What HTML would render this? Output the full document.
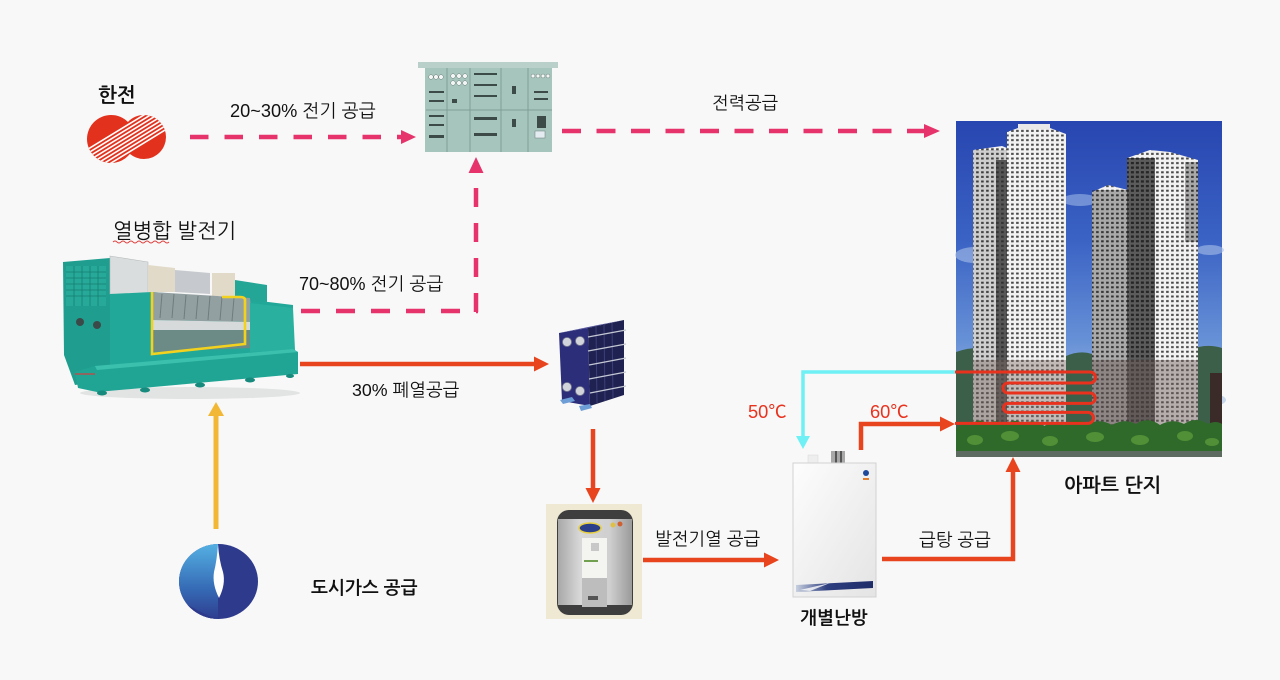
<!DOCTYPE html>
<html><head><meta charset="utf-8">
<style>
html,body{margin:0;padding:0;background:#f8f8f8;}
svg{display:block;}
text{font-family:"Liberation Sans","NanumGothic","Noto Sans CJK KR",sans-serif;fill:#111;}
.b{font-weight:bold;}
</style></head>
<body>
<svg width="1280" height="680" viewBox="0 0 1280 680" xmlns="http://www.w3.org/2000/svg">
<defs>
  <clipPath id="kc"><circle cx="111" cy="139" r="24"/><circle cx="144" cy="137" r="22"/></clipPath>
  <linearGradient id="gasL" x1="0" y1="0" x2="0" y2="1"><stop offset="0" stop-color="#55b2e4"/><stop offset="0.6" stop-color="#3569b4"/><stop offset="1" stop-color="#2e3a8c"/></linearGradient>
  <clipPath id="gc"><ellipse cx="218.5" cy="581.5" rx="39.5" ry="37.5"/></clipPath>
  <linearGradient id="sky" x1="0" y1="0" x2="0" y2="1"><stop offset="0" stop-color="#2846b0"/><stop offset="0.35" stop-color="#3a62c4"/><stop offset="0.65" stop-color="#6690d6"/><stop offset="0.8" stop-color="#8eb0de"/></linearGradient>
  <pattern id="winL" width="5" height="4.6" patternUnits="userSpaceOnUse"><rect width="5" height="4.6" fill="#f2f2f2"/><rect x="1.1" y="1.1" width="2.6" height="2" fill="#474747"/></pattern>
  <pattern id="winD" width="5" height="4.6" patternUnits="userSpaceOnUse"><rect width="5" height="4.6" fill="#5c5c5c"/><rect x="0.9" y="0.9" width="3" height="2.3" fill="#262626"/></pattern>
  <linearGradient id="boil" x1="0" y1="0" x2="1" y2="1"><stop offset="0" stop-color="#fdfdfd"/><stop offset="1" stop-color="#e4e4e4"/></linearGradient>
  <linearGradient id="tank" x1="0" y1="0" x2="1" y2="0"><stop offset="0" stop-color="#a8a8a8"/><stop offset="0.3" stop-color="#d8d8d8"/><stop offset="0.7" stop-color="#cfcfcf"/><stop offset="1" stop-color="#9a9a9a"/></linearGradient>
  <linearGradient id="bstripe" x1="0" y1="0" x2="1" y2="0"><stop offset="0" stop-color="#c8d0e0"/><stop offset="0.4" stop-color="#2e3f80"/><stop offset="1" stop-color="#1e2c68"/></linearGradient>
</defs>

<!-- KEPCO -->
<text x="98" y="102" class="b" font-size="20">한전</text>
<g clip-path="url(#kc)">
  <rect x="80" y="105" width="95" height="65" fill="#e2321e"/>
  <g stroke="#ffffff" stroke-width="1.6">
    <line x1="80" y1="168" x2="175" y2="110" transform="translate(0,-14)"/>
    <line x1="80" y1="168" x2="175" y2="110" transform="translate(0,-10)"/>
    <line x1="80" y1="168" x2="175" y2="110" transform="translate(0,-6)"/>
    <line x1="80" y1="168" x2="175" y2="110" transform="translate(0,-2)"/>
    <line x1="80" y1="168" x2="175" y2="110" transform="translate(0,2)"/>
    <line x1="80" y1="168" x2="175" y2="110" transform="translate(0,6)"/>
    <line x1="80" y1="168" x2="175" y2="110" transform="translate(0,10)"/>
    <line x1="80" y1="168" x2="175" y2="110" transform="translate(0,14)"/>
  </g>
</g>

<!-- dashed arrows -->
<g stroke="#e6336c" stroke-width="4.5" fill="none">
  <line x1="190" y1="137" x2="403" y2="137" stroke-dasharray="18.5 16"/>
  <line x1="562" y1="131" x2="926" y2="131" stroke-dasharray="19 15.5"/>
  <line x1="476" y1="188" x2="476" y2="313" stroke-dasharray="19 16"/>
  <line x1="301" y1="311" x2="478" y2="311" stroke-dasharray="19 16"/>
</g>
<g fill="#e6336c">
  <polygon points="401,130 416,137 401,144"/>
  <polygon points="924,124 940,131 924,138"/>
  <polygon points="468.5,173 476,157 483.5,173"/>
</g>
<text x="230" y="117" font-size="18.2">20~30% 전기 공급</text>
<text x="712" y="109" font-size="17.6">전력공급</text>
<text x="299" y="290" font-size="18">70~80% 전기 공급</text>

<!-- switchboard -->
<g>
  <rect x="425" y="66" width="127" height="86" fill="#a6c5bd"/>
  <rect x="418" y="62" width="140" height="6" fill="#b9d0ca"/>
  <g stroke="#7f9f97" stroke-width="1">
    <line x1="447" y1="68" x2="447" y2="152"/><line x1="470" y1="68" x2="470" y2="152"/>
    <line x1="501" y1="68" x2="501" y2="152"/><line x1="528" y1="68" x2="528" y2="152"/>
    <line x1="426" y1="110" x2="552" y2="110"/>
  </g>
  <g fill="#f4f6f5" stroke="#6a7f7a" stroke-width="0.5">
    <circle cx="431" cy="77" r="2.3"/><circle cx="436" cy="77" r="2.3"/><circle cx="441" cy="77" r="2.3"/>
    <circle cx="453" cy="76" r="2.3"/><circle cx="459" cy="76" r="2.3"/><circle cx="465" cy="76" r="2.3"/>
    <circle cx="453" cy="83" r="2.3"/><circle cx="459" cy="83" r="2.3"/><circle cx="465" cy="83" r="2.3"/>
    <circle cx="533" cy="76" r="2"/><circle cx="538" cy="76" r="2"/><circle cx="543" cy="76" r="2"/><circle cx="548" cy="76" r="2"/>
  </g>
  <g fill="#3c4a48">
    <rect x="429" y="91" width="15" height="2"/><rect x="429" y="100" width="15" height="2"/>
    <rect x="429" y="115" width="15" height="2"/><rect x="429" y="124" width="15" height="2"/>
    <rect x="429" y="135" width="15" height="3"/>
    <rect x="474" y="73" width="23" height="2"/><rect x="474" y="84" width="23" height="2"/><rect x="474" y="95" width="23" height="2"/>
    <rect x="474" y="117" width="23" height="3"/><rect x="474" y="133" width="23" height="3"/>
    <rect x="512" y="86" width="4" height="8"/><rect x="512" y="119" width="4" height="8"/>
    <rect x="534" y="91" width="14" height="2"/><rect x="534" y="98" width="14" height="2"/>
    <rect x="537" y="116" width="9" height="12"/>
    <rect x="452" y="99" width="5" height="4"/>
  </g>
  <rect x="535" y="131" width="10" height="7" fill="#e4ecf2" stroke="#6a7f7a" stroke-width="0.5"/>
</g>

<!-- CHP generator -->
<text x="113" y="238" font-size="20.8">열병합 발전기</text>
<path d="M113,242 q2,-2 4,0 t4,0 t4,0 t4,0 t4,0 t4,0 t4,0 t4,0 t4,0 t4,0 t4,0 t4,0 t4,0 t4,0" stroke="#e04040" stroke-width="0.9" fill="none"/>
<g>
  <ellipse cx="190" cy="393" rx="110" ry="6" fill="#e2e4e4"/>
  <polygon points="63,262 110,258 110,380 75,385 64,355" fill="#1f9e8f"/>
  <rect x="66" y="266" width="40" height="40" fill="#27a999"/>
  <g stroke="#167e72" stroke-width="0.8">
    <line x1="66" y1="272" x2="106" y2="272"/><line x1="66" y1="278" x2="106" y2="278"/><line x1="66" y1="284" x2="106" y2="284"/><line x1="66" y1="290" x2="106" y2="290"/><line x1="66" y1="296" x2="106" y2="296"/>
    <line x1="74" y1="266" x2="74" y2="306"/><line x1="82" y1="266" x2="82" y2="306"/><line x1="90" y1="266" x2="90" y2="306"/><line x1="98" y1="266" x2="98" y2="306"/>
  </g>
  <circle cx="80" cy="322" r="4" fill="#3b4a48"/><circle cx="97" cy="325" r="4" fill="#3b4a48"/>
  <polygon points="110,256 148,262 148,296 110,294" fill="#d9dddd" stroke="#b8bcbc" stroke-width="0.6"/>
  <polygon points="110,294 152,292 252,300 293,305 293,350 110,372" fill="#22a898"/>
  <polygon points="148,265 175,268 175,292 148,292" fill="#e2dac8"/>
  <polygon points="175,270 210,273 210,294 175,292" fill="#c6cace"/>
  <polygon points="212,273 235,273 235,296 212,296" fill="#e2dac8"/>
  <polygon points="235,280 267,285 267,302 235,300" fill="#23a696"/>
  <polygon points="152,292 250,298 252,322 152,320" fill="#93a0a2"/>
  <g stroke="#6f7c7e" stroke-width="1">
    <line x1="162" y1="294" x2="160" y2="318"/><line x1="174" y1="294" x2="172" y2="318"/><line x1="186" y1="295" x2="184" y2="319"/><line x1="198" y1="296" x2="196" y2="319"/><line x1="210" y1="296" x2="208" y2="320"/><line x1="222" y1="297" x2="220" y2="320"/><line x1="234" y1="298" x2="232" y2="321"/>
  </g>
  <polygon points="152,320 252,322 254,330 152,330" fill="#d6dada"/>
  <polygon points="152,330 252,330 252,348 152,352" fill="#6c8a86"/>
  <polygon points="250,303 293,308 295,350 250,352" fill="#2ab09f"/>
  <path d="M152,292 V354 L245,344 V300 Q245,297 240,297 H222" stroke="#f2d21e" stroke-width="2.6" fill="none"/>
  <polygon points="75,372 95,366 293,349 298,352 298,374 97,392 78,388" fill="#20a594"/>
  <polygon points="95,366 293,349 298,352 97,370" fill="#3cc0ae"/>
  <g fill="#168a7c">
    <ellipse cx="102" cy="393" rx="5" ry="2.5"/><ellipse cx="145" cy="390" rx="5" ry="2.5"/><ellipse cx="200" cy="385" rx="5" ry="2.5"/><ellipse cx="250" cy="380" rx="5" ry="2.5"/><ellipse cx="290" cy="376" rx="4" ry="2"/>
  </g>
  <line x1="75" y1="374" x2="95" y2="374" stroke="#d04040" stroke-width="1.2"/>
</g>

<!-- solid arrows -->
<g stroke="#e8441e" stroke-width="4.5" fill="none">
  <line x1="300" y1="364" x2="536" y2="364"/>
  <line x1="593" y1="429" x2="593" y2="490"/>
  <line x1="643" y1="560" x2="766" y2="560"/>
  <polyline points="882,559 1013,559 1013,470"/>
  <polyline points="861,450 861,424 942,424"/>
</g>
<g fill="#e8441e">
  <polygon points="534,356.5 549,364 534,371.5"/>
  <polygon points="585.5,488 593,503 600.5,488"/>
  <polygon points="764,552.5 779,560 764,567.5"/>
  <polygon points="1005.5,472 1013,457 1020.5,472"/>
  <polygon points="940,416.5 955,424 940,431.5"/>
</g>
<text x="352" y="396" font-size="17.8">30% 폐열공급</text>
<text x="655" y="545" font-size="17.8">발전기열 공급</text>
<text x="919" y="546" font-size="17.8">급탕 공급</text>

<!-- yellow gas arrow -->
<line x1="216" y1="529" x2="216" y2="414" stroke="#f2b835" stroke-width="5"/>
<polygon points="208,416 216,402 224,416" fill="#f2b835"/>

<!-- gas logo -->
<g clip-path="url(#gc)">
  <rect x="178" y="543" width="82" height="78" fill="#2e3a8c"/>
  <rect x="178" y="543" width="40" height="78" fill="url(#gasL)"/>
  <path d="M178,600 Q200,612 218,620 L178,620 Z" fill="#2e3a8c"/>
</g>
<path d="M218,544 Q219,560 223,572 Q226,584 219,598 Q212,584 214,572 Q217,560 218,544 Z" fill="#ffffff"/>
<text x="311" y="594" class="b" font-size="18">도시가스 공급</text>

<!-- heat exchanger -->
<g>
  <polygon points="559,333 598,325 624,320 588,328" fill="#4a4c98"/>
  <polygon points="559,333 588,328 590,406 562,401" fill="#2c2e7a"/>
  <polygon points="588,328 624,320 624,395 590,406" fill="#1f2150"/>
  <g stroke="#3c3f7a" stroke-width="1"><line x1="596" y1="327" x2="597" y2="403"/><line x1="604" y1="325" x2="605" y2="401"/><line x1="612" y1="323" x2="613" y2="398"/></g>
  <g stroke="#c4c8d4" stroke-width="1.3">
    <line x1="588" y1="337" x2="626" y2="330"/><line x1="588" y1="351" x2="626" y2="344"/><line x1="589" y1="365" x2="626" y2="358"/><line x1="589" y1="379" x2="626" y2="372"/><line x1="590" y1="393" x2="626" y2="386"/>
  </g>
  <g fill="#d2d4dc" stroke="#7a7c90" stroke-width="0.8">
    <circle cx="567" cy="342" r="4.5"/><circle cx="580" cy="341" r="4.5"/><circle cx="567" cy="387" r="4.5"/><circle cx="580" cy="391" r="4.5"/>
  </g>
  <polygon points="560,400 572,397 575,401 563,404" fill="#6d9ed6"/>
  <polygon points="579,406 590,404 592,408 581,411" fill="#6d9ed6"/>
</g>

<!-- water tank -->
<g>
  <rect x="546" y="504" width="96" height="115" fill="#efe9d3"/>
  <rect x="557" y="510" width="76" height="105" rx="12" fill="#3e3e3e"/>
  <rect x="558" y="519" width="74" height="86" fill="url(#tank)"/>
  <ellipse cx="590" cy="528" rx="11" ry="5" fill="#2b3f8a" stroke="#e8d040" stroke-width="1.5"/>
  <circle cx="613" cy="525" r="2.5" fill="#e0c040"/><circle cx="620" cy="524" r="2.5" fill="#d06030"/>
  <rect x="582" y="538" width="25" height="40" fill="#f4f4f0"/>
  <rect x="591" y="543" width="8" height="8" fill="#c8c8c8"/>
  <rect x="584" y="560" width="14" height="2" fill="#70a050"/>
  <rect x="582" y="578" width="25" height="29" fill="#bdbdbd"/>
  <rect x="588" y="596" width="10" height="4" fill="#555"/>
</g>

<!-- boiler -->
<g>
  <rect x="808" y="455" width="10" height="9" fill="#eeeeee" stroke="#d6d6d6" stroke-width="0.5"/>
  <rect x="831" y="451" width="14" height="13" fill="#a8a8a8"/>
  <rect x="835" y="451" width="2" height="13" fill="#555"/><rect x="840" y="451" width="2" height="13" fill="#555"/>
  <rect x="793" y="463" width="83" height="134" fill="url(#boil)" stroke="#d2d2d2" stroke-width="1"/>
  <circle cx="866" cy="473" r="3" fill="#1f4a9c"/>
  <rect x="863" y="478" width="6" height="2" fill="#e08030"/>
  <polygon points="796,585 873,581 873,588 796,592" fill="url(#bstripe)"/>
  <polygon points="800,590 830,583 810,591" fill="#ffffff" opacity="0.8"/>
</g>
<text x="800" y="624" class="b" font-size="18">개별난방</text>

<!-- building -->
<g>
  <rect x="956" y="121" width="266" height="336" fill="url(#sky)"/>
  <ellipse cx="975" cy="255" rx="20" ry="8" fill="#a9c0e8" opacity="0.6"/>
  <ellipse cx="1080" cy="200" rx="18" ry="6" fill="#9cb6e4" opacity="0.6"/>
  <ellipse cx="1210" cy="250" rx="14" ry="5" fill="#a9c0e8" opacity="0.6"/>
  <ellipse cx="1212" cy="400" rx="14" ry="6" fill="#b4c8e6" opacity="0.7"/>
  <path d="M956,352 Q975,345 1000,350 L1000,430 L956,430 Z" fill="#3c5f4a"/>
  <path d="M1066,356 Q1080,350 1092,354 L1092,430 L1066,430 Z" fill="#3c5f4a"/>
  <path d="M1190,350 Q1205,343 1222,348 L1222,430 L1190,430 Z" fill="#3c5f4a"/>
  <polygon points="973,150 1002,146 1007,148 1007,440 973,440" fill="url(#winL)"/>
  <rect x="973" y="150" width="34" height="290" fill="#000" opacity="0.15"/>
  <rect x="996" y="160" width="11" height="280" fill="#2e2e2e" opacity="0.75"/>
  <polygon points="1007,132 1018,128 1050,128 1066,134 1066,440 1007,440" fill="url(#winL)"/>
  <rect x="1018" y="124" width="32" height="5" fill="#e8e8e8"/>
  <polygon points="1092,192 1108,185 1128,190 1128,440 1092,440" fill="url(#winL)"/>
  <rect x="1092" y="190" width="36" height="250" fill="#000" opacity="0.3"/>
  <polygon points="1127,158 1150,150 1170,152 1198,160 1198,440 1127,440" fill="url(#winL)"/>
  <rect x="1127" y="158" width="28" height="282" fill="url(#winD)"/>
  <rect x="1185" y="162" width="13" height="80" fill="#000" opacity="0.3"/>
  <rect x="973" y="360" width="93" height="70" fill="#7a6660" opacity="0.4"/>
  <rect x="1092" y="360" width="106" height="70" fill="#6a5a58" opacity="0.45"/>
  <rect x="1210" y="373" width="12" height="54" fill="#3a2a28"/>
  <path d="M956,430 Q962,420 970,426 Q978,416 988,424 Q996,418 1004,425 Q1014,417 1024,424 Q1034,418 1044,426 Q1054,420 1064,425 Q1076,416 1088,424 Q1100,418 1112,425 Q1124,418 1136,424 Q1148,416 1160,425 Q1172,418 1184,424 Q1196,416 1208,424 Q1216,420 1222,424 L1222,457 L956,457 Z" fill="#2f6a2a"/>
  <g fill="#5a9a3a" opacity="0.8">
    <ellipse cx="975" cy="440" rx="8" ry="5"/><ellipse cx="1010" cy="436" rx="9" ry="5"/><ellipse cx="1050" cy="441" rx="8" ry="5"/><ellipse cx="1095" cy="437" rx="9" ry="5"/><ellipse cx="1140" cy="440" rx="9" ry="5"/><ellipse cx="1185" cy="436" rx="8" ry="5"/><ellipse cx="1212" cy="442" rx="7" ry="4"/>
  </g>
  <rect x="956" y="451" width="266" height="6" fill="#5d6a60"/>
</g>
<text x="1064" y="492" class="b" font-size="19.5">아파트 단지</text>

<!-- coil & cyan -->
<path d="M955,372 H1090 A5.5,5.5 0 0 1 1090,383 H1008 A5,5 0 0 0 1008,393 H1090 A5.2,5.2 0 0 1 1090,403.4 H1008 A4.5,4.5 0 0 0 1008,412.4 H1088 A5.5,5.5 0 0 1 1088,423.4 H955" stroke="#e8321e" stroke-width="3" fill="none"/>
<polyline points="955,372 803,372 803,437" stroke="#6ff0f5" stroke-width="3.5" fill="none"/>
<polygon points="796,436 803,449 810,436" fill="#6ff0f5"/>
<text x="748" y="418" font-size="18.3" style="fill:#e8321e">50℃</text>
<text x="870" y="418" font-size="18.3" style="fill:#e8321e">60℃</text>
</svg>
</body></html>
